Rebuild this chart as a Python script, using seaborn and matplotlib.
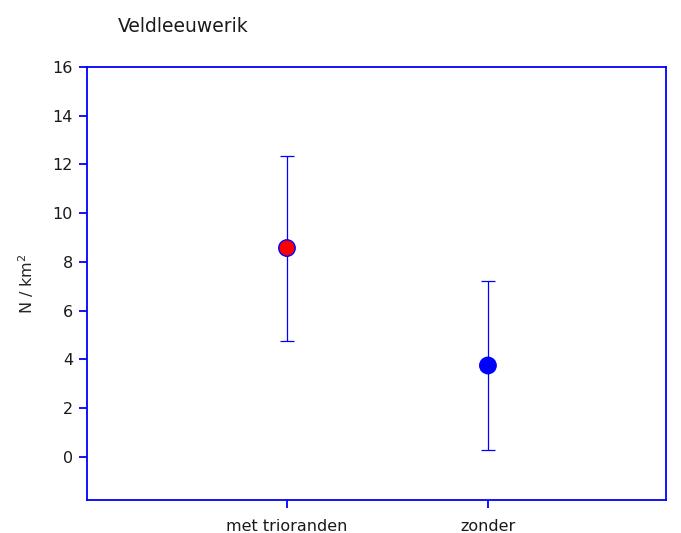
import numpy as np
import pandas as pd
import matplotlib
matplotlib.use("Agg")
import matplotlib.pyplot as plt
import seaborn as sns

# data
categories = ["met trioranden", "zonder"]
means = [8.57, 3.75]
lower = [4.76, 0.30]
upper = [12.34, 7.22]
face_colors = ["#ff0000", "#0000ff"]

sns.set_style("white")
plt.rcParams["font.family"] = ["DejaVu Sans"]

df = pd.DataFrame({"group": categories, "density": means,
                   "pos": np.arange(len(categories))})

fig = plt.figure(figsize=(6.81, 5.33), dpi=100)
ax = fig.add_axes([87 / 681, 1 - 500 / 533, (666 - 87) / 681, (500 - 67) / 533])

blue = "#0000ff"

# error bars
yerr = [np.array(means) - np.array(lower), np.array(upper) - np.array(means)]
ax.errorbar(df["pos"], df["density"], yerr=yerr, fmt="none",
            ecolor=blue, elinewidth=0.9, capsize=5, capthick=0.9, zorder=2)

# points
sns.scatterplot(data=df, x="pos", y="density", hue="group",
                palette=dict(zip(categories, face_colors)),
                s=140, edgecolor=blue, linewidth=1.0, legend=False,
                zorder=3, ax=ax)

ax.set_xlim(-0.995, 1.886)
ax.set_ylim(-1.77, 16)
ax.set_xticks(df["pos"])
ax.set_xticklabels(categories)
ax.set_yticks(np.arange(0, 17, 2))
ax.set_xlabel("")
ax.set_ylabel("N / km$^2$", fontsize=11.5, labelpad=12)

for s in ax.spines.values():
    s.set_visible(True)
    s.set_color(blue)
    s.set_linewidth(1.3)
ax.tick_params(axis="both", direction="out", length=6, width=1.3,
               color=blue, labelcolor="#1a1a1a", labelsize=11.5,
               left=True, bottom=True, pad=4)
ax.tick_params(axis="x", pad=8)
ax.grid(False)

fig.text(118 / 681, 1 - 27 / 533, "Veldleeuwerik", fontsize=13.5,
         va="center", ha="left", color="#1a1a1a")

fig.savefig("out.png", dpi=100)
